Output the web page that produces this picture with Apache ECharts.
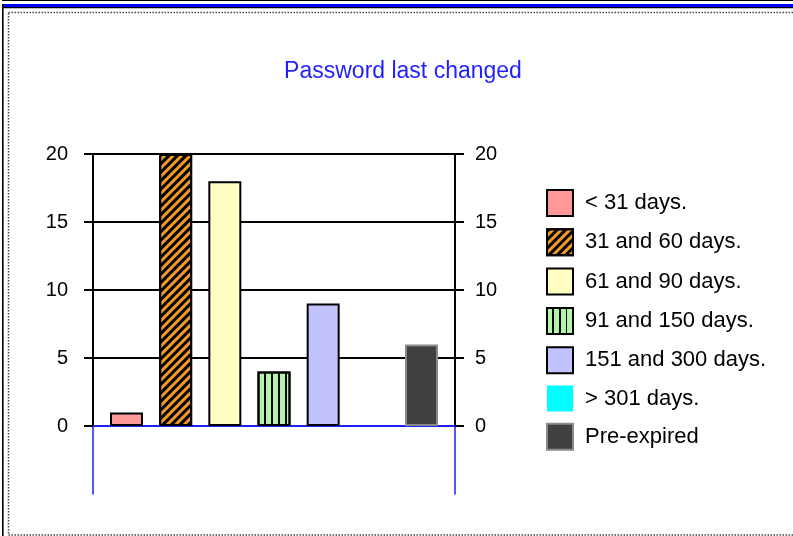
<!DOCTYPE html>
<html>
<head>
<meta charset="utf-8">
<script src="https://cdn.jsdelivr.net/npm/echarts@6/dist/echarts.min.js"></script>
<style>
  html, body { margin: 0; padding: 0; background: #fff; }
  #chart { width: 793px; height: 536px; }
</style>
</head>
<body>
<div id="chart"></div>
<script>
// ---- data ----
const chartTitle = 'Password last changed';
const categories = ['< 31 days.', '31 and 60 days.', '61 and 90 days.', '91 and 150 days.', '151 and 300 days.', '> 301 days.', 'Pre-expired'];
const values = [1, 20, 18, 4, 9, 0, 6];
const yMin = 0;
const yMax = 20;
const yStep = 5;
const yExtMin = -5;

// ---- styles ----
const fills = ['#FF9999', '#F39A26', '#FFFFC4', '#B2F5A8', '#C2C2FF', '#00FFFF', '#404040'];
const borders = ['#000', '#000', '#000', '#000', '#000', null, '#8a8a8a'];
const decals = [
  null,
  { symbol: 'rect', symbolSize: 1, dashArrayX: [1, 0], dashArrayY: [2.4, 2.4], rotation: -Math.PI / 4, color: '#000' },
  null,
  { symbol: 'rect', symbolSize: 1, dashArrayX: [1, 0], dashArrayY: [1.8, 5.0], rotation: Math.PI / 2, color: '#000' },
  null, null, null
];

const FONT = '"Liberation Sans", Arial, sans-serif';
const blue = '#1f1fff';

const chart = echarts.init(document.getElementById('chart'), null, { renderer: 'canvas' });

const series = categories.map((name, i) => {
  const itemStyle = { color: fills[i], borderColor: borders[i] || fills[i], borderWidth: borders[i] ? 2 : 0 };
  if (decals[i]) itemStyle.decal = decals[i];
  return {
    name: name,
    type: 'bar',
    xAxisIndex: 0,
    yAxisIndex: 0,
    barWidth: 33,
    barGap: '49%',
    data: [values[i]],
    itemStyle: itemStyle,
    emphasis: { disabled: true },
    silent: true
  };
});

const valueAxisCommon = {
  type: 'value',
  min: yMin,
  max: yMax,
  interval: yStep,
  axisLine: { show: true, lineStyle: { color: '#000', width: 2 } },
  axisTick: { show: true, inside: false, length: 9, lineStyle: { color: '#000', width: 2 } },
  axisLabel: { color: '#000', fontFamily: FONT, fontSize: 20 }
};

const option = {
  animation: false,
  backgroundColor: '#fff',
  title: {
    text: chartTitle,
    left: 403,
    top: 60,
    padding: 0,
    textAlign: 'center',
    textStyle: { color: blue, fontFamily: FONT, fontSize: 23, fontWeight: 'normal' }
  },
  legend: {
    orient: 'vertical',
    left: 546,
    top: 189,
    padding: 0,
    itemWidth: 26,
    itemHeight: 26,
    itemGap: 11.3,
    icon: 'rect',
    selectedMode: false,
    data: categories.map((name, i) => ({
      name: name,
      itemStyle: { borderColor: borders[i] || fills[i], borderWidth: borders[i] ? 2 : 0 }
    })),
    textStyle: { color: '#000', fontFamily: FONT, fontSize: 22, padding: [0, 0, 0, 7] }
  },
  grid: [
    { left: 93, top: 154, width: 362, height: 272, containLabel: false },
    { left: 93, top: 426, width: 362, height: 68, containLabel: false }
  ],
  xAxis: [
    {
      type: 'category', gridIndex: 0, data: [''],
      axisLine: { show: true, onZero: true, lineStyle: { color: blue, width: 2 } },
      axisTick: { show: false }, axisLabel: { show: false }, splitLine: { show: false }
    },
    {
      type: 'category', gridIndex: 1, data: [''], show: false
    }
  ],
  yAxis: [
    Object.assign({}, valueAxisCommon, {
      gridIndex: 0, position: 'left',
      axisLabel: Object.assign({}, valueAxisCommon.axisLabel, { margin: 25 }),
      splitLine: { show: true, lineStyle: { color: '#000', width: 2 } }
    }),
    Object.assign({}, valueAxisCommon, {
      gridIndex: 0, position: 'right',
      axisLabel: Object.assign({}, valueAxisCommon.axisLabel, { margin: 20 }),
      splitLine: { show: false }
    }),
    {
      type: 'value', gridIndex: 1, position: 'left', min: yExtMin, max: yMin,
      axisLine: { show: true, lineStyle: { color: blue, width: 1.5 } },
      axisTick: { show: false }, axisLabel: { show: false }, splitLine: { show: false }
    },
    {
      type: 'value', gridIndex: 1, position: 'right', min: yExtMin, max: yMin,
      axisLine: { show: true, lineStyle: { color: blue, width: 1.5 } },
      axisTick: { show: false }, axisLabel: { show: false }, splitLine: { show: false }
    }
  ],
  graphic: [
    { type: 'rect', shape: { x: 2, y: 0, width: 791, height: 1 }, style: { fill: '#000' }, silent: true },
    { type: 'rect', shape: { x: 2, y: 4, width: 791, height: 3 }, style: { fill: '#0000ff' }, silent: true },
    { type: 'rect', shape: { x: 2, y: 7, width: 791, height: 1.2 }, style: { fill: '#000' }, silent: true },
    { type: 'rect', shape: { x: 2, y: 4, width: 1.6, height: 532 }, style: { fill: '#000' }, silent: true },
    { type: 'rect', shape: { x: 8.5, y: 12.5, width: 800, height: 522.5 },
      style: { fill: null, stroke: '#444', lineWidth: 1.5, lineDash: [1.5, 1.5] }, silent: true }
  ],
  series: series
};

chart.setOption(option);
</script>
</body>
</html>
